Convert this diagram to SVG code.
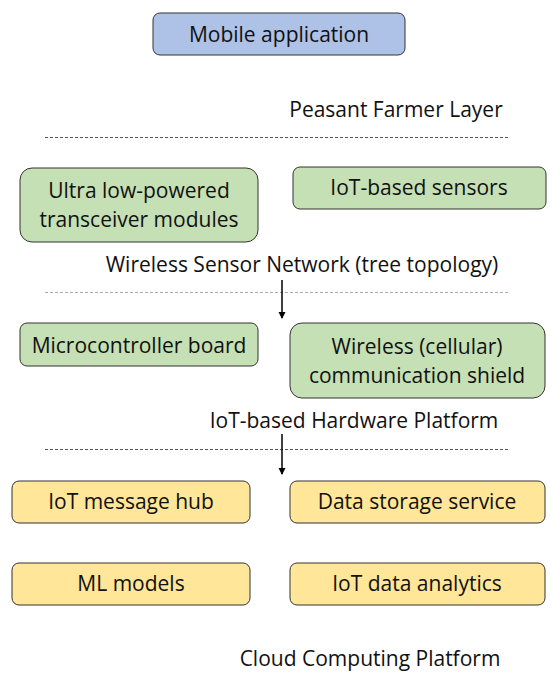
<svg xmlns="http://www.w3.org/2000/svg" width="552" height="684" viewBox="0 0 552 684">
<style>
text{font-family:"Open Sans","Liberation Sans",sans-serif;font-size:21px;fill:#111;text-anchor:middle}
.blue{fill:#adc2e6;stroke:#333;stroke-width:1}
.green{fill:#c5e0b4;stroke:#333;stroke-width:1}
.yellow{fill:#ffe699;stroke:#333;stroke-width:1}
.dash{stroke:#555;stroke-width:1;stroke-dasharray:3 2;fill:none}
.dash2{stroke:#aaa;stroke-width:1;stroke-dasharray:3 2;fill:none}
.arr{stroke:#000;stroke-width:1.5;fill:none;marker-end:url(#ah)}
</style>
<defs>
<marker id="ah" markerWidth="8" markerHeight="8" refX="6" refY="4" orient="auto" markerUnits="userSpaceOnUse">
<path d="M0,0.5 L7,4 L0,7.5 Z" fill="#000"/>
</marker>
</defs>
<rect width="552" height="684" fill="#fff"/>
<g id="layers">
<text x="396" y="117">Peasant Farmer Layer</text>
<text x="302" y="272">Wireless Sensor Network (tree topology)</text>
<text x="354" y="428">IoT-based Hardware Platform</text>
<text x="370" y="666">Cloud Computing Platform</text>
<line class="dash" x1="45" y1="137.5" x2="508" y2="137.5"/>
<line class="dash2" x1="45" y1="292.5" x2="508" y2="292.5"/>
<line class="dash" x1="45" y1="449.5" x2="508" y2="449.5"/>
</g>
<g id="mobile"><rect class="blue" x="153" y="13" width="252" height="42" rx="7"/><text x="279" y="42">Mobile application</text></g>
<g id="transceiver"><rect class="green" x="20" y="168" width="238" height="74" rx="12"/><text x="139" y="198">Ultra low-powered</text><text x="139" y="227">transceiver modules</text></g>
<g id="sensors"><rect class="green" x="293" y="167" width="253" height="42" rx="7"/><text x="419" y="195">IoT-based sensors</text></g>
<g id="micro"><rect class="green" x="20" y="323" width="238" height="43" rx="7"/><text x="139" y="353">Microcontroller board</text></g>
<g id="shield"><rect class="green" x="290" y="323" width="255" height="75" rx="12"/><text x="417" y="354">Wireless (cellular)</text><text x="417" y="383">communication shield</text></g>
<g id="hub"><rect class="yellow" x="12" y="481" width="238" height="42" rx="7"/><text x="131" y="509">IoT message hub</text></g>
<g id="storage"><rect class="yellow" x="290" y="481" width="255" height="42" rx="7"/><text x="417" y="509">Data storage service</text></g>
<g id="ml"><rect class="yellow" x="12" y="563" width="238" height="42" rx="7"/><text x="131" y="591">ML models</text></g>
<g id="analytics"><rect class="yellow" x="290" y="563" width="255" height="42" rx="7"/><text x="417" y="591">IoT data analytics</text></g>
<g id="connectors">
<line class="arr" x1="282" y1="280" x2="282" y2="318"/>
<line class="arr" x1="282" y1="434" x2="282" y2="474"/>
</g>
</svg>
